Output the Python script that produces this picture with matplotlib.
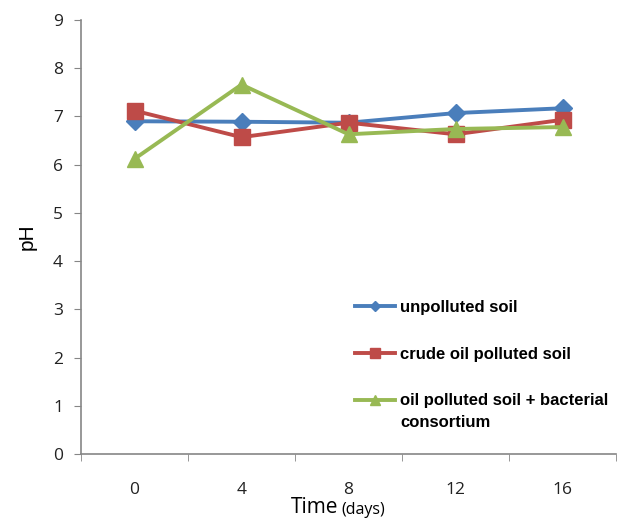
import numpy as np
import matplotlib.pyplot as plt

# data
days = ['0', '4', '8', '12', '16']
unpolluted = [6.90, 6.89, 6.87, 7.07, 7.17]
crude_oil = [7.12, 6.57, 6.87, 6.63, 6.93]
oil_bacteria = [6.12, 7.66, 6.63, 6.74, 6.78]

plt.rcParams['font.family'] = ['Liberation Sans', 'DejaVu Sans']

fig = plt.figure(figsize=(6.17, 5.23), dpi=100)
ax = fig.add_axes([81/617, 69/523, 535/617, 434/523])

x = np.arange(len(days))
ax.plot(x, unpolluted, color='#4A7EBB', lw=2.8, marker='D', ms=9,
        label='unpolluted soil')
ax.plot(x, crude_oil, color='#BE4B48', lw=2.8, marker='s', ms=11,
        label='crude oil polluted soil')
ax.plot(x, oil_bacteria, color='#98B954', lw=2.8, marker='^', ms=12,
        label='oil polluted soil + bacterial')

# axes look
ax.set_xlim(-0.5, len(days) - 0.5)
ax.set_ylim(0, 9)
ax.set_yticks(range(10))
ax.set_xticks(x)
ax.set_xticklabels(days)
ax.set_xticks(np.arange(-0.5, len(days), 1), minor=True)
ax.tick_params(axis='x', which='major', length=0, pad=20, labelsize=12.5)
ax.tick_params(axis='x', which='minor', length=5, color='#868686')
ax.tick_params(axis='y', length=5, color='#868686', labelsize=12.5, pad=8)
for lab in ax.get_xticklabels() + ax.get_yticklabels():
    lab.set_family(['Open Sans', 'DejaVu Sans'])
    lab.set_color('#222222')
for s in ['top', 'right']:
    ax.spines[s].set_visible(False)
for s in ['left', 'bottom']:
    ax.spines[s].set_color('#868686')
    ax.spines[s].set_linewidth(1.2)

ax.set_ylabel('pH', fontsize=15, labelpad=12)
fig.text(338/617, 5/523, 'Time', fontsize=15, ha='right', va='bottom',
         family=['Open Sans', 'DejaVu Sans'])
fig.text(341/617, 5/523, '(days)', fontsize=11.5, ha='left', va='bottom',
         family=['Open Sans', 'DejaVu Sans'])

leg = ax.legend(loc='upper left', bbox_to_anchor=(340/617, 1 - 285/523),
                bbox_transform=fig.transFigure, frameon=False,
                prop={'size': 12, 'weight': 'bold'},
                handlelength=2.4, handletextpad=0.3, labelspacing=1.9,
                markerscale=0.6)

# second line of the last legend entry, under its first line
fig.canvas.draw()
bb = leg.get_texts()[-1].get_window_extent().transformed(fig.transFigure.inverted())
fig.text(bb.x0, bb.y0 - 7/523, 'consortium', fontsize=12, weight='bold',
         ha='left', va='top')

fig.savefig('out.png', dpi=100)
